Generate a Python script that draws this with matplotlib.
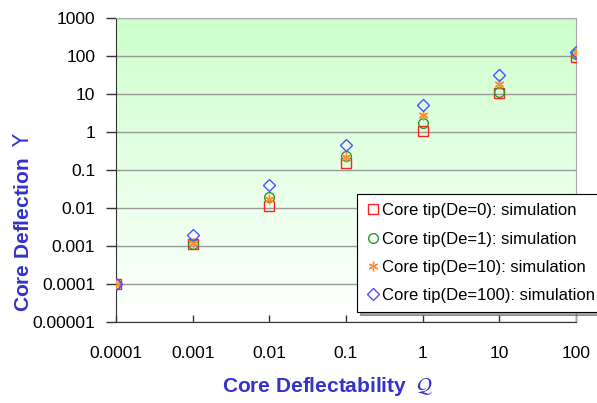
import matplotlib
matplotlib.use("Agg")
import matplotlib.pyplot as plt
import numpy as np

plt.rcParams['font.family'] = ['Liberation Sans', 'DejaVu Sans']

x_vals = [0.0001, 0.001, 0.01, 0.1, 1, 10, 100]
de0 = [0.0001, 0.0011, 0.011, 0.15, 1.05, 10.5, 95]
de1 = [0.0001, 0.0011, 0.019, 0.24, 1.7, 11, 115]
de10 = [0.0001, 0.0012, 0.017, 0.22, 2.8, 18, 120]
de100 = [0.0001, 0.002, 0.04, 0.45, 5.1, 32, 125]
labels = ["Core tip(De=0): simulation", "Core tip(De=1): simulation",
          "Core tip(De=10): simulation", "Core tip(De=100): simulation"]
y_ticks = [1e-5, 1e-4, 1e-3, 1e-2, 1e-1, 1, 10, 100, 1000]
y_ticklabels = ["0.00001", "0.0001", "0.001", "0.01", "0.1", "1", "10", "100", "1000"]
x_ticks = [1e-4, 1e-3, 1e-2, 1e-1, 1, 10, 100]
x_ticklabels = ["0.0001", "0.001", "0.01", "0.1", "1", "10", "100"]

fig = plt.figure(figsize=(5.97, 4.03), dpi=100)
ax = fig.add_axes([116/597, 1-322/403, 460/597, 304/403])

# gradient background
grad = np.linspace(0, 1, 256).reshape(-1, 1)
top = np.array([204, 255, 204]) / 255
bot = np.array([255, 255, 255]) / 255
img = bot + (top - bot) * grad[::-1]
img = np.repeat(img[:, None, :], 2, axis=1)
ax.imshow(img, extent=[0, 1, 0, 1], transform=ax.transAxes, aspect='auto', zorder=0)

ax.set_xscale('log')
ax.set_yscale('log')
ax.set_xlim(1e-4, 100)
ax.set_ylim(1e-5, 1000)

ms = 6.5
ax.plot(x_vals, de0, ls='none', marker='s', mfc='none', mec='#ff2020', ms=ms, mew=1.0, label=labels[0], zorder=3)
ax.plot(x_vals, de1, ls='none', marker='o', mfc='none', mec='#2a9a2a', ms=ms+0.5, mew=1.0, label=labels[1], zorder=3)
ax.plot(x_vals, de10, ls='none', marker=(6, 2, 0), mfc='none', mec='#ff8c30', ms=ms+0.5, mew=1.0, label=labels[2], zorder=3)
ax.plot(x_vals, de100, ls='none', marker='D', mfc='none', mec='#5050ff', ms=ms-0.5, mew=1.0, label=labels[3], zorder=3)

ax.set_yticks(y_ticks)
ax.set_yticklabels(y_ticklabels)
ax.set_xticks(x_ticks)
ax.set_xticklabels(x_ticklabels)
ax.minorticks_off()
ax.tick_params(axis='y', direction='out', length=7, width=1, color='#333333', labelsize=12.5, pad=8)
ax.tick_params(axis='x', direction='in', length=5, width=1, color='#333333', labelsize=12.5, pad=17)

ax.grid(axis='y', color='#999999', lw=1.0, zorder=1)
ax.set_axisbelow(True)
for s in ['top', 'right']:
    ax.spines[s].set_color('#aaaaaa')
for s in ['left', 'bottom']:
    ax.spines[s].set_color('#333333')

ax.set_xlabel(r"Core Deflectability  $\mathcal{Q}$", fontsize=15, fontweight='bold', color='#3333cc')
ax.set_ylabel(r"Core Deflection  $\Upsilon$", fontsize=15, fontweight='bold', color='#3333cc')
ax.xaxis.set_label_coords(0.46, -53/304)
ax.yaxis.set_label_coords(-(116-33)/460, 0.33)

leg = fig.legend(loc='upper left', bbox_to_anchor=(357/597, 1-194/403), fontsize=12,
                 frameon=True, fancybox=False, shadow=True, handletextpad=0.15,
                 handlelength=0.8, borderpad=0.55, labelspacing=0.8, borderaxespad=0,
                 framealpha=1)
leg.get_frame().set_edgecolor('#000000')
leg.get_frame().set_linewidth(0.8)

fig.savefig("out.png", dpi=100)
